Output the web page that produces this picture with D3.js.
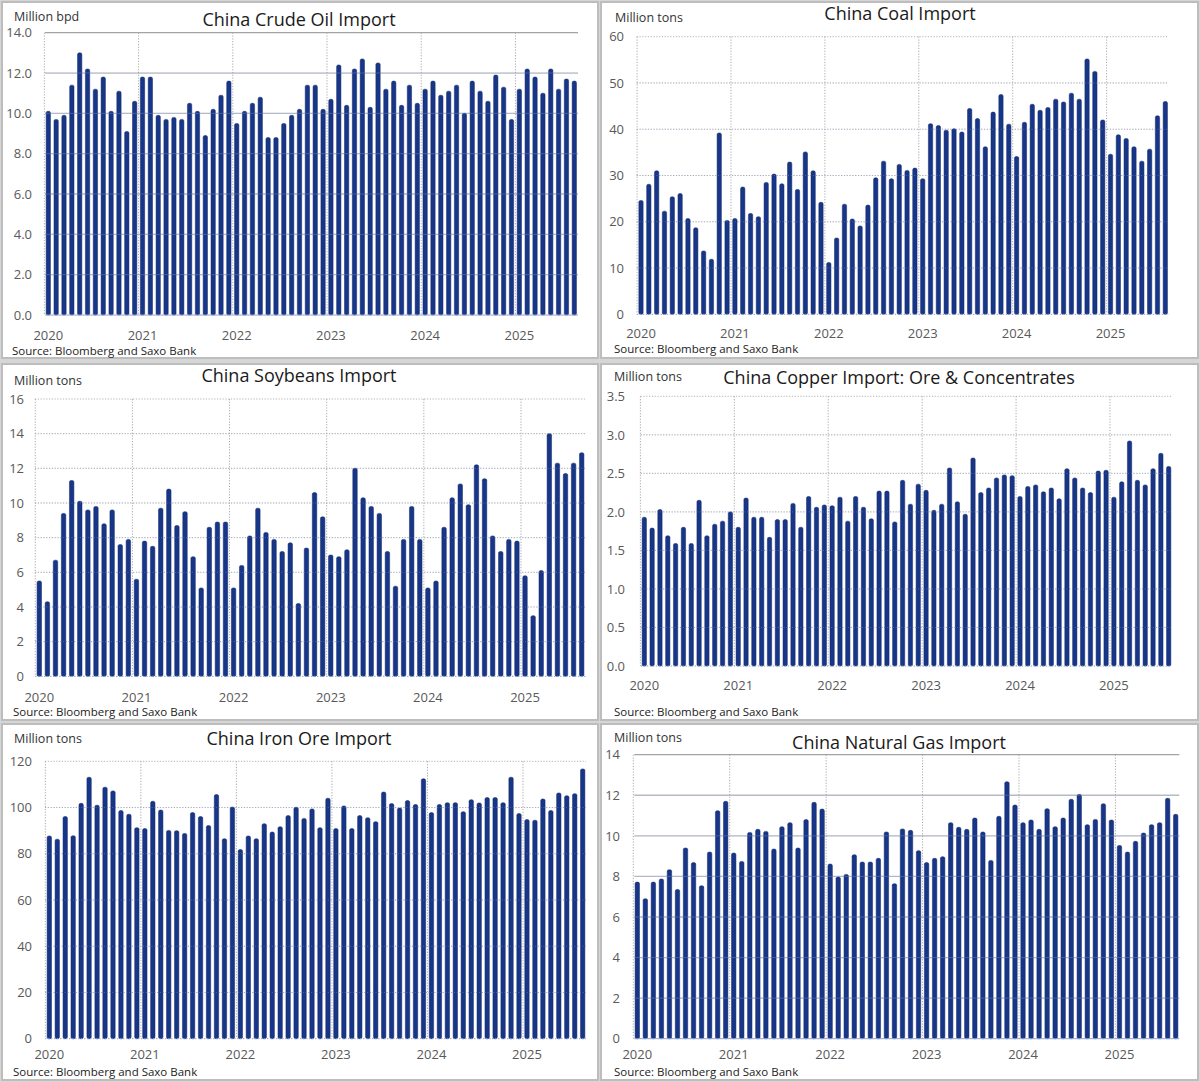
<!DOCTYPE html>
<html>
<head>
<meta charset="utf-8">
<script src="https://cdn.jsdelivr.net/npm/d3@7"></script>
<style>
  body { margin: 0; background: #d6d6d6; }
  text { font-family: "Open Sans", "Noto Sans", sans-serif; }
</style>
</head>
<body>
<script>
// monthly categories Jan 2020 .. Aug 2025
var months = d3.timeMonth.range(new Date(2020, 0, 1), new Date(2025, 8, 1));
var yearLabels = ["2020", "2021", "2022", "2023", "2024", "2025"];

// values, one per month
var crudeOil = [10.1, 9.7, 9.9, 11.4, 13.0, 12.2, 11.2, 11.8, 10.1, 11.1, 9.1, 10.6,
  11.8, 11.8, 9.9, 9.7, 9.8, 9.7, 10.5, 10.1, 8.9, 10.2, 10.9, 11.6,
  9.5, 10.1, 10.5, 10.8, 8.8, 8.8, 9.5, 9.9, 10.2, 11.4, 11.4, 10.2,
  10.7, 12.4, 10.4, 12.2, 12.7, 10.3, 12.5, 11.2, 11.6, 10.4, 11.4, 10.5,
  11.2, 11.6, 10.9, 11.1, 11.4, 10.0, 11.6, 11.1, 10.6, 11.9, 11.3, 9.7,
  11.2, 12.2, 11.8, 11.0, 12.2, 11.2, 11.7, 11.6];
var coal = [24.6, 28.1, 31.0, 22.3, 25.4, 26.1, 20.7, 18.7, 13.7, 11.9, 39.2, 20.3,
  20.7, 27.5, 21.8, 21.1, 28.5, 30.3, 28.2, 32.9, 27.0, 35.1, 31.0, 24.2,
  11.2, 16.5, 23.8, 20.6, 19.1, 23.6, 29.5, 33.1, 29.3, 32.4, 31.1, 31.6,
  29.3, 41.2, 40.8, 39.8, 40.1, 39.4, 44.5, 42.3, 36.2, 43.7, 47.5, 41.1,
  34.1, 41.5, 45.4, 44.1, 44.7, 46.5, 45.9, 47.8, 46.5, 55.2, 52.5, 42.0,
  34.6, 38.8, 38.0, 36.2, 33.1, 35.7, 42.9, 46.0];
var soybeans = [5.5, 4.3, 6.7, 9.4, 11.3, 10.1, 9.6, 9.8, 8.8, 9.6, 7.6, 7.9,
  5.6, 7.8, 7.5, 9.7, 10.8, 8.7, 9.5, 6.9, 5.1, 8.6, 8.9, 8.9,
  5.1, 6.4, 8.1, 9.7, 8.3, 7.9, 7.2, 7.7, 4.2, 7.4, 10.6, 9.2,
  7.0, 6.9, 7.3, 12.0, 10.3, 9.8, 9.4, 7.2, 5.2, 7.9, 9.8, 7.9,
  5.1, 5.5, 8.6, 10.3, 11.1, 9.9, 12.2, 11.4, 8.1, 7.2, 7.9, 7.8,
  5.8, 3.5, 6.1, 14.0, 12.3, 11.7, 12.3, 12.9];
var copper = [1.93, 1.79, 2.03, 1.69, 1.59, 1.80, 1.59, 2.15, 1.69, 1.84, 1.88, 2.00,
  1.80, 2.18, 1.93, 1.93, 1.67, 1.90, 1.90, 2.11, 1.80, 2.20, 2.06, 2.09,
  2.08, 2.19, 1.88, 2.20, 2.06, 1.91, 2.27, 2.27, 1.87, 2.41, 2.10, 2.36,
  2.28, 2.02, 2.10, 2.57, 2.13, 1.97, 2.70, 2.25, 2.31, 2.44, 2.48, 2.47,
  2.20, 2.33, 2.35, 2.26, 2.31, 2.17, 2.56, 2.44, 2.31, 2.25, 2.53, 2.54,
  2.19, 2.39, 2.92, 2.41, 2.35, 2.56, 2.76, 2.59];
var ironOre = [87.7, 86.3, 96.1, 87.8, 101.8, 113.1, 101.0, 108.8, 107.2, 98.7, 97.1, 91.3,
  90.9, 102.7, 98.9, 90.1, 90.0, 88.8, 97.8, 96.1, 92.2, 105.6, 86.5, 100.2,
  81.8, 87.7, 86.5, 93.0, 89.4, 91.7, 96.5, 100.1, 95.3, 99.4, 91.3, 104.0,
  90.9, 100.7, 90.9, 96.5, 95.6, 93.9, 106.7, 101.7, 99.8, 103.0, 101.3, 112.4,
  97.8, 101.3, 102.1, 102.1, 98.2, 103.4, 102.0, 104.3, 104.3, 102.1, 113.1, 97.4,
  94.8, 94.5, 103.7, 98.7, 106.3, 105.1, 106.0, 116.7];
var naturalGas = [7.72, 6.90, 7.72, 7.87, 8.33, 7.36, 9.40, 8.68, 7.54, 9.20, 11.24, 11.70,
  9.15, 8.74, 10.17, 10.32, 10.22, 9.35, 10.45, 10.65, 9.40, 10.80, 11.65, 11.32,
  8.61, 7.97, 8.10, 9.07, 8.71, 8.71, 8.89, 10.19, 7.64, 10.34, 10.27, 9.27,
  8.68, 8.89, 8.97, 10.65, 10.42, 10.32, 10.88, 10.19, 8.79, 10.96, 12.67, 11.52,
  10.65, 10.78, 10.32, 11.34, 10.45, 10.88, 11.80, 12.04, 10.55, 10.81, 11.58, 10.78,
  9.53, 9.20, 9.73, 10.14, 10.55, 10.65, 11.85, 11.06];

var barColor = "#183688",
    sourceText = "Source: Bloomberg and Saxo Bank";

// layout of each panel (positions only)
var panels = [
  { title: "China Crude Oil Import", unit: "Million bpd", values: crudeOil, max: 14, step: 2, fmt: ".1f", grid: "solid",
    box: [2, 2, 596, 356], x1: 48.3, xN: 574.3, gl: 45, gr: 578, top: 32.7, base: 315,
    labelX: 32, titleX: 299, titleY: 26, unitX: 14, unitY: 21, yearY: 340, srcX: 12, srcY: 355 },
  { title: "China Coal Import", unit: "Million tons", values: coal, max: 60, step: 10, fmt: "d", grid: "dotted",
    box: [601, 2, 597, 356], x1: 641, xN: 1165.3, gl: 636.7, gr: 1168.3, top: 36.7, base: 314.3,
    labelX: 624, titleX: 900, titleY: 20, unitX: 615, unitY: 22, yearY: 338, srcX: 614, srcY: 353 },
  { title: "China Soybeans Import", unit: "Million tons", values: soybeans, max: 16, step: 2, fmt: "d", grid: "dotted",
    box: [2, 364, 596, 356], x1: 39.3, xN: 581.7, gl: 35, gr: 586.7, top: 399, base: 676.3,
    labelX: 24, titleX: 299, titleY: 382, unitX: 14, unitY: 385, yearY: 702, srcX: 13, srcY: 716 },
  { title: "China Copper Import: Ore & Concentrates", unit: "Million tons", values: copper, max: 3.5, step: 0.5, fmt: ".1f", grid: "dotted",
    box: [601, 364, 597, 356], x1: 644.3, xN: 1168.7, gl: 640.7, gr: 1171.7, top: 396.3, base: 666,
    labelX: 625, titleX: 899, titleY: 384, unitX: 614, unitY: 381, yearY: 690, srcX: 614, srcY: 716 },
  { title: "China Iron Ore Import", unit: "Million tons", values: ironOre, max: 120, step: 20, fmt: "d", grid: "dotted",
    box: [2, 724, 596, 356], x1: 49.3, xN: 582.7, gl: 45, gr: 586, top: 761.3, base: 1038.7,
    labelX: 32, titleX: 299, titleY: 745, unitX: 14, unitY: 743, yearY: 1059, srcX: 13, srcY: 1076 },
  { title: "China Natural Gas Import", unit: "Million tons", values: naturalGas, max: 14, step: 2, fmt: "d", grid: "solid",
    box: [601, 724, 597, 356], x1: 637.3, xN: 1175.7, gl: 634.3, gr: 1179.3, top: 754.7, base: 1038.7,
    labelX: 620, titleX: 899, titleY: 749, unitX: 614, unitY: 742, yearY: 1059, srcX: 614, srcY: 1076 }
];

var svg = d3.select("body").append("svg")
    .attr("width", 1200)
    .attr("height", 1082);

svg.append("rect")
    .attr("width", 1200).attr("height", 1082)
    .attr("fill", "#d6d6d6");

panels.forEach(drawPanel);

function drawPanel(p) {
    var n = p.values.length,
        s = (p.xN - p.x1) / (n - 1);

    var x = d3.scaleBand()
        .domain(d3.range(n))
        .range([p.x1 - s / 2, p.xN + s / 2])
        .paddingInner(0.45)
        .paddingOuter(0.225);

    var y = d3.scaleLinear()
        .domain([0, p.max])
        .range([p.base, p.top]);

    var ticks = d3.range(0, p.max + p.step / 2, p.step);
    var inner = ticks.filter(function (t) { return t > 0; });
    var center = function (i) { return x(i) + x.bandwidth() / 2; };
    var janIdx = months.map(function (m, i) { return m.getMonth() === 0 ? i : -1; })
        .filter(function (i) { return i >= 0; });

    var g = svg.append("g");

    g.append("rect")
        .attr("x", p.box[0]).attr("y", p.box[1])
        .attr("width", p.box[2]).attr("height", p.box[3])
        .attr("fill", "#ffffff")
        .attr("stroke", "#bdbdbd")
        .attr("stroke-width", 2);

    // horizontal grid behind the bars
    g.selectAll("line.hgrid")
        .data(inner)
        .enter().append("line")
        .attr("x1", p.gl).attr("x2", p.gr)
        .attr("y1", function (d) { return y(d); })
        .attr("y2", function (d) { return y(d); })
        .attr("stroke", function (d) {
            if (p.grid === "solid") return d === p.max ? "#a3a3a3" : "#c4c4c4";
            return "#b3b3b3";
        })
        .attr("stroke-width", p.grid === "solid" ? 1.3 : 1)
        .attr("stroke-dasharray", p.grid === "solid" ? null : "1.2,1.6");

    // year separators
    g.selectAll("line.vgrid")
        .data(janIdx)
        .enter().append("line")
        .attr("x1", function (i) { return center(i) - s / 2; })
        .attr("x2", function (i) { return center(i) - s / 2; })
        .attr("y1", p.top)
        .attr("y2", p.base)
        .attr("stroke", "#a9a9a9")
        .attr("stroke-width", 1)
        .attr("stroke-dasharray", "1.2,1.6");

    // bars
    g.selectAll("rect.bar")
        .data(p.values)
        .enter().append("rect")
        .attr("class", "bar")
        .attr("x", function (d, i) { return x(i); })
        .attr("y", function (d) { return y(d); })
        .attr("width", x.bandwidth())
        .attr("height", function (d) { return y(0) - y(d); })
        .attr("rx", 1.6)
        .attr("fill", barColor)
        .attr("stroke", "#10286a")
        .attr("stroke-width", 0.5);

    // faint grid showing through the bars
    g.selectAll("line.hover")
        .data(inner.filter(function (d) { return d < p.max; }))
        .enter().append("line")
        .attr("x1", p.gl).attr("x2", p.gr)
        .attr("y1", function (d) { return y(d); })
        .attr("y2", function (d) { return y(d); })
        .attr("stroke", "#8fa3d8")
        .attr("stroke-opacity", 0.35)
        .attr("stroke-width", 1)
        .attr("stroke-dasharray", p.grid === "solid" ? null : "1.2,1.6");

    // baseline
    g.append("line")
        .attr("x1", p.gl).attr("x2", p.gr)
        .attr("y1", y(0)).attr("y2", y(0))
        .attr("stroke", "#8fa0cc")
        .attr("stroke-width", 1)
        .attr("stroke-dasharray", p.grid === "solid" ? null : "1.5,1.5");

    // y axis labels
    var yAxis = g.append("g")
        .attr("transform", "translate(" + p.labelX + ",0)")
        .call(d3.axisLeft(y).tickValues(ticks).tickSize(0).tickPadding(0).tickFormat(d3.format(p.fmt)));
    yAxis.select(".domain").remove();
    yAxis.selectAll("text")
        .attr("fill", "#595959")
        .style("font-size", "13px")
        .style("font-family", "'Open Sans', sans-serif");

    // x axis year labels
    var xAxis = g.append("g")
        .attr("transform", "translate(0," + p.yearY + ")")
        .call(d3.axisBottom(x).tickValues(janIdx).tickSize(0)
            .tickFormat(function (i) { return yearLabels[months[i].getFullYear() - 2020]; }));
    xAxis.select(".domain").remove();
    xAxis.selectAll("text")
        .attr("y", 0).attr("dy", 0)
        .attr("fill", "#595959")
        .style("font-size", "13px")
        .style("font-family", "'Open Sans', sans-serif");

    g.append("text")
        .attr("x", p.titleX).attr("y", p.titleY)
        .attr("text-anchor", "middle")
        .attr("fill", "#1a1a1a")
        .style("font-size", "18px")
        .text(p.title);

    g.append("text")
        .attr("x", p.unitX).attr("y", p.unitY)
        .attr("fill", "#333333")
        .style("font-size", "12.5px")
        .text(p.unit);

    g.append("text")
        .attr("x", p.srcX).attr("y", p.srcY)
        .attr("fill", "#222222")
        .style("font-size", "11.5px")
        .text(sourceText);
}
</script>
</body>
</html>
